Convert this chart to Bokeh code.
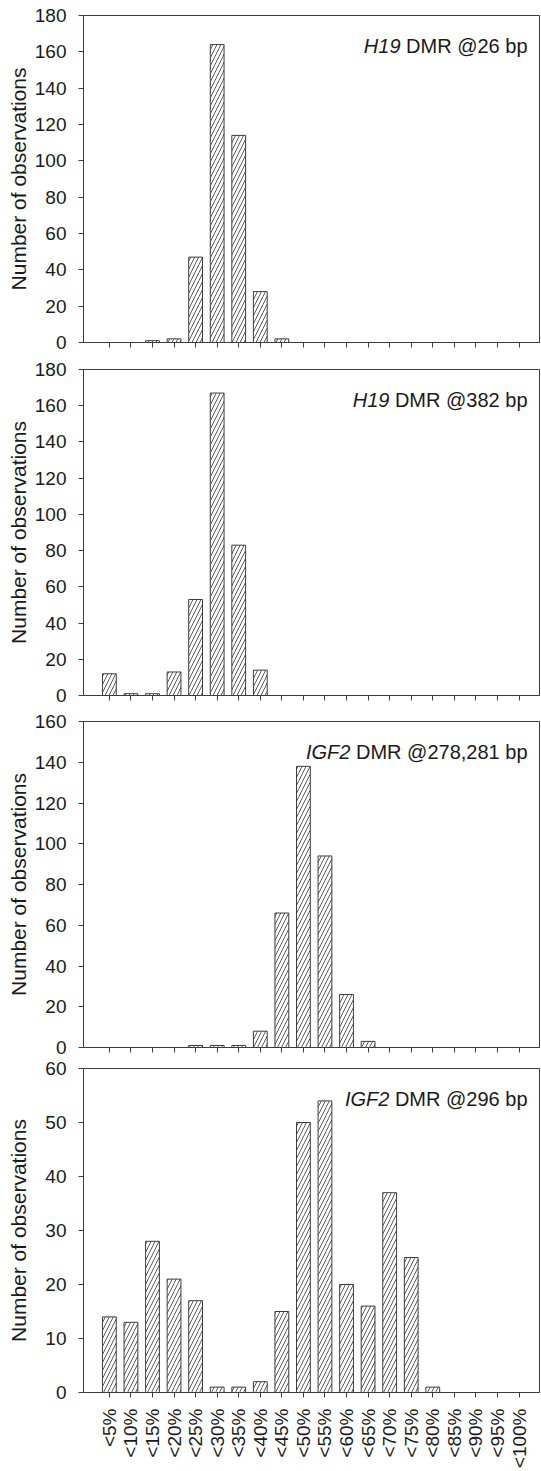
import math
from bokeh.plotting import figure
from bokeh.layouts import column
from bokeh.models import Range1d, FixedTicker, Label, ColumnDataSource
from bokeh.embed import file_html
from bokeh.resources import INLINE

categories = ["<5%", "<10%", "<15%", "<20%", "<25%", "<30%", "<35%", "<40%", "<45%", "<50%",
              "<55%", "<60%", "<65%", "<70%", "<75%", "<80%", "<85%", "<90%", "<95%", "<100%"]

h19_26 = [0, 0, 1, 2, 47, 164, 114, 28, 2, 0, 0, 0, 0, 0, 0, 0, 0, 0, 0, 0]
h19_382 = [12, 1, 1, 13, 53, 167, 83, 14, 0, 0, 0, 0, 0, 0, 0, 0, 0, 0, 0, 0]
igf2_278 = [0, 0, 0, 0, 1, 1, 1, 8, 66, 138, 94, 26, 3, 0, 0, 0, 0, 0, 0, 0]
igf2_296 = [14, 13, 28, 21, 17, 1, 1, 2, 15, 50, 54, 20, 16, 37, 25, 1, 0, 0, 0, 0]

panel_genes = ["H19", "H19", "IGF2", "IGF2"]
panel_rest = ["DMR @26 bp", "DMR @382 bp", "DMR @278,281 bp", "DMR @296 bp"]
panel_ymax = [180, 180, 160, 60]
panel_ystep = [20, 20, 20, 10]

FONT = "Liberation Sans"
TXT = "#1a1a1a"
LINE = "#3c3c3c"
TITLE_SIZE = 20

# Arial/Liberation Sans advance widths (em)
W = {" ": .278, "D": .722, "M": .833, "R": .722, "@": 1.015, ",": .278, "b": .556, "p": .556}
def text_width(s, size):
    return sum(W.get(c, .556) for c in s) * size

def make_panel(counts, gene, rest, ymax, ystep, height, top, bottom, last):
    idx = list(range(len(categories)))
    src = ColumnDataSource(dict(x=idx, top=counts, cat=categories))
    p = figure(width=541, height=height, x_range=Range1d(-1.2, 19.95), y_range=Range1d(0, ymax),
               output_backend="svg", toolbar_location=None,
               min_border_left=83, min_border_right=2, min_border_top=top, min_border_bottom=bottom)
    p.vbar(x="x", top="top", width=0.64, source=src, fill_color="white", line_color=LINE,
           line_width=1, hatch_pattern="/", hatch_color="#333333", hatch_scale=8, hatch_weight=0.8)
    p.grid.visible = False
    p.outline_line_color = LINE
    p.outline_line_width = 1

    p.xaxis.ticker = FixedTicker(ticks=idx)
    p.xaxis.major_label_overrides = {i: c for i, c in enumerate(categories)}
    p.xaxis.minor_tick_line_color = None
    p.xaxis.major_tick_in = 0
    p.xaxis.major_tick_out = 5
    p.xaxis.axis_line_color = LINE
    p.xaxis.major_tick_line_color = LINE
    if last:
        p.xaxis.major_label_orientation = math.pi / 2
        p.xaxis.major_label_text_font_size = "19px"
        p.xaxis.major_label_standoff = 11
        p.xaxis.major_label_text_font = FONT
        p.xaxis.major_label_text_color = TXT
    else:
        p.xaxis.major_label_text_font_size = "0px"
        p.xaxis.major_label_text_color = None
        p.xaxis.major_label_standoff = 0

    yticks = list(range(0, ymax + 1, ystep))
    p.yaxis.ticker = FixedTicker(ticks=yticks)
    p.yaxis.minor_tick_line_color = None
    p.yaxis.major_tick_in = 0
    p.yaxis.major_tick_out = 5
    p.yaxis.axis_line_color = LINE
    p.yaxis.major_tick_line_color = LINE
    p.yaxis.major_label_text_font = FONT
    p.yaxis.major_label_text_font_size = "19px"
    p.yaxis.major_label_text_color = TXT
    p.yaxis.major_label_standoff = 12
    p.yaxis.axis_label = "Number of observations"
    p.yaxis.axis_label_text_font = FONT
    p.yaxis.axis_label_text_font_size = "21px"
    p.yaxis.axis_label_text_font_style = "normal"
    p.yaxis.axis_label_text_color = TXT
    widest = max(len(str(t)) for t in yticks) * 0.556 * 19
    p.yaxis.axis_label_standoff = int(round(max(0, 33.2 - widest)))

    rest_w = text_width(" " + rest, TITLE_SIZE)
    p.add_layout(Label(x=19.95, y=ymax, x_offset=-12, y_offset=-30, text=rest, text_align="right",
                       text_baseline="alphabetic", text_font=FONT, text_font_size=f"{TITLE_SIZE}px",
                       text_color=TXT))
    p.add_layout(Label(x=19.95, y=ymax, x_offset=-12 - rest_w, y_offset=-30, text=gene,
                       text_align="right", text_baseline="alphabetic", text_font=FONT,
                       text_font_size=f"{TITLE_SIZE}px", text_font_style="italic", text_color=TXT))
    return p

p1 = make_panel(h19_26, panel_genes[0], panel_rest[0], panel_ymax[0], panel_ystep[0], 355, 15, 13, False)
p2 = make_panel(h19_382, panel_genes[1], panel_rest[1], panel_ymax[1], panel_ystep[1], 353, 14, 13, False)
p3 = make_panel(igf2_278, panel_genes[2], panel_rest[2], panel_ymax[2], panel_ystep[2], 349, 13, 10, False)
p4 = make_panel(igf2_296, panel_genes[3], panel_rest[3], panel_ymax[3], panel_ystep[3], 414, 11, 77, True)

layout = column(p1, p2, p3, p4, spacing=0)
open("out.html", "w").write(file_html(layout, INLINE))
